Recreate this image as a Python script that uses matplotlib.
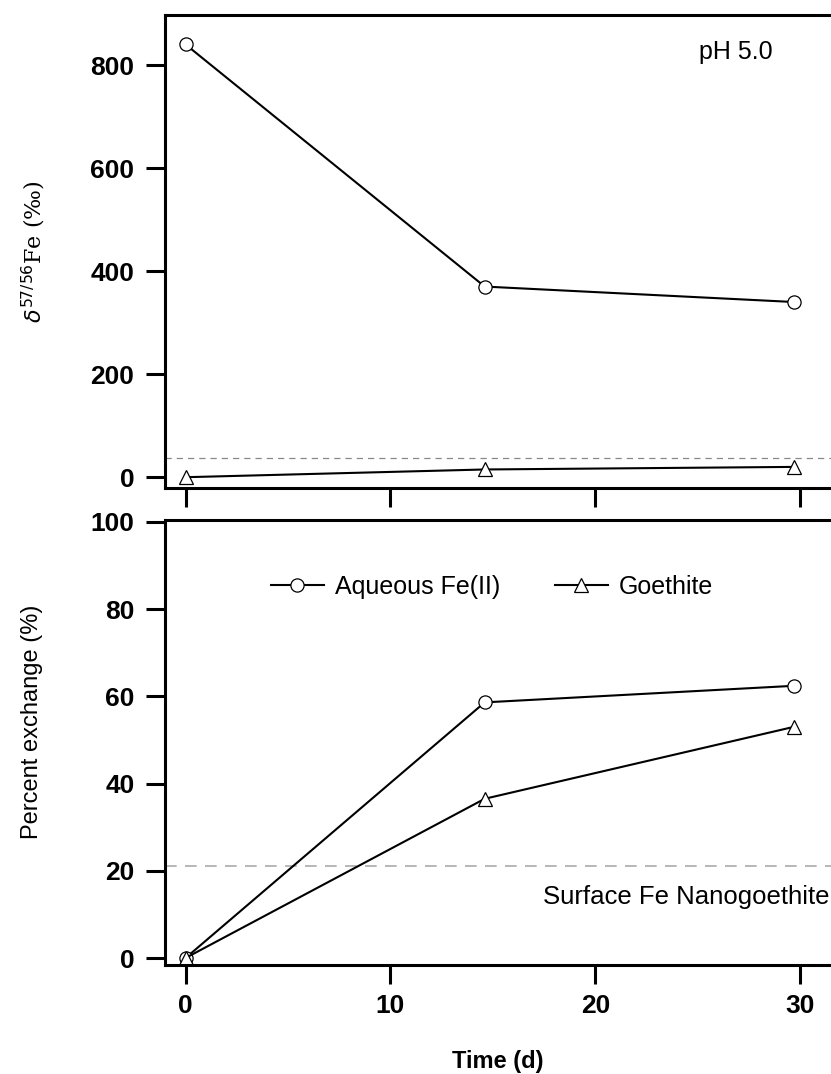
import matplotlib
matplotlib.use("Agg")
import matplotlib.pyplot as plt
from matplotlib.lines import Line2D

plt.rcParams['font.family'] = ['Liberation Sans', 'DejaVu Sans']

# Sampling times (days)
time_d = [0, 14.6, 29.7]

# delta 57/56 Fe (permil)
delta_aqueous = [840, 370, 340]
delta_goethite = [0, 15, 20]
delta_ref = 37

# Percent exchange (%)
pct_aqueous = [0, 58.6, 62.4]
pct_goethite = [0, 36.5, 53.0]
surface_fe = 21

x_ticks = [0, 10, 20, 30]
top_yticks = [0, 200, 400, 600, 800]
bot_yticks = [0, 20, 40, 60, 80, 100]

fig = plt.figure(figsize=(8.31, 10.74), dpi=100)
ax1 = fig.add_axes([0.1986, 0.5456, 0.8014, 0.4404])
ax2 = fig.add_axes([0.1986, 0.1015, 0.8014, 0.4143])

for ax in (ax1, ax2):
    ax.spines['right'].set_visible(False)
    for s in ('left', 'top', 'bottom'):
        ax.spines[s].set_linewidth(2.2)
    ax.tick_params(direction='out', length=14, width=2.2, labelsize=19)
    ax.tick_params(axis='y', pad=8)
    ax.set_xlim(-1.0, 31.5)
    ax.set_xticks(x_ticks)

mk = dict(color='black', lw=1.5, markersize=9.5, markerfacecolor='white',
          markeredgecolor='black', markeredgewidth=0.9)

# Top panel: isotope composition
ax1.axhline(delta_ref, color='#888888', lw=0.9, ls=(0, (5, 4)))
ax1.plot(time_d, delta_aqueous, marker='o', **mk)
ax1.plot(time_d, delta_goethite, marker='^', **mk)
ax1.set_ylim(-21, 897)
ax1.set_yticks(top_yticks)
ax1.set_yticklabels([str(v) for v in top_yticks], fontweight='bold')
ax1.set_xticklabels([])
ax1.set_ylabel(r'$\delta^{57/56}$Fe (‰)', fontsize=16,
               fontfamily=['DejaVu Serif'])
ax1.yaxis.set_label_coords(-0.176, 0.50)
ax1.text(0.857, 0.922, 'pH 5.0', transform=ax1.transAxes, fontsize=18,
         ha='center', va='center')

# Bottom panel: percent exchange
ax2.axhline(surface_fe, color='#aaaaaa', lw=1.2, ls=(0, (7, 5)))
ax2.plot(time_d, pct_aqueous, marker='o', **mk)
ax2.plot(time_d, pct_goethite, marker='^', **mk)
ax2.set_ylim(-1.6, 100.4)
ax2.set_yticks(bot_yticks)
ax2.set_yticklabels([str(v) for v in bot_yticks], fontweight='bold')
ax2.set_xticklabels([str(v) for v in x_ticks], fontweight='bold')
ax2.tick_params(axis='x', pad=7)
ax2.set_ylabel('Percent exchange (%)', fontsize=17)
ax2.yaxis.set_label_coords(-0.183, 0.546)
ax2.set_xlabel('Time (d)', fontsize=17, fontweight='bold', labelpad=23)
ax2.text(0.998, 0.153, 'Surface Fe Nanogoethite', transform=ax2.transAxes,
         fontsize=18.5, ha='right', va='center')

handles = [Line2D([], [], marker='o', **mk), Line2D([], [], marker='^', **mk)]
ax2.legend(handles, ['Aqueous Fe(II)', 'Goethite'], loc='center',
           bbox_to_anchor=(0.491, 0.849), ncol=2, frameon=False, fontsize=18,
           handlelength=2.1, handletextpad=0.45, columnspacing=2.2,
           borderpad=0, numpoints=1)

fig.savefig('out.png', dpi=100)
